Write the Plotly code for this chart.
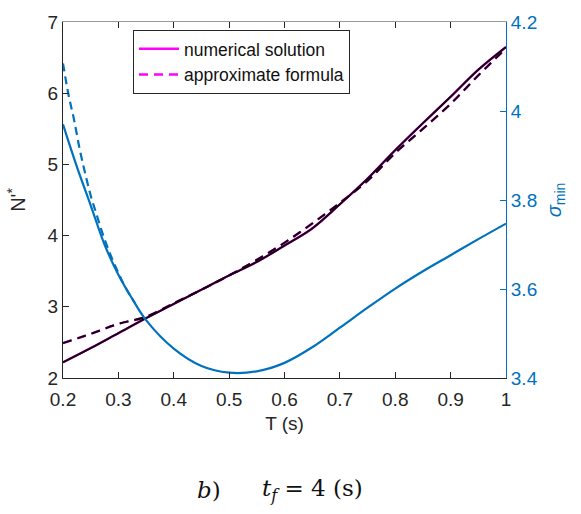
import plotly.graph_objects as go

# Period T (s) sample points
T_num = [0.2, 0.25, 0.3, 0.35, 0.4, 0.45, 0.5, 0.55, 0.6, 0.65, 0.7, 0.75, 0.8, 0.85, 0.9, 0.95, 1.0]
# N'* from the numerical solution
N_num = [2.22, 2.42, 2.63, 2.84, 3.04, 3.24, 3.44, 3.63, 3.86, 4.10, 4.44, 4.80, 5.20, 5.58, 5.95, 6.33, 6.65]
# N'* from the approximate formula
N_apx = [2.49, 2.62, 2.76, 2.86, 3.05, 3.24, 3.44, 3.66, 3.90, 4.17, 4.46, 4.77, 5.16, 5.50, 5.85, 6.25, 6.63]

# sigma_min, numerical solution
T_sig = [0.2, 0.225, 0.25, 0.275, 0.3, 0.325, 0.35, 0.4, 0.45, 0.5, 0.55, 0.6, 0.65, 0.7, 0.75, 0.8, 0.85, 0.9, 0.95, 1.0]
S_num = [3.970, 3.875, 3.788, 3.700, 3.632, 3.578, 3.530, 3.466, 3.427, 3.412, 3.415, 3.434, 3.469, 3.513, 3.558, 3.601, 3.640, 3.676, 3.712, 3.747]
# sigma_min, approximate formula (short-period branch)
T_sig_apx = [0.2, 0.21, 0.22, 0.23, 0.24, 0.25, 0.26, 0.27, 0.28, 0.29, 0.30, 0.31, 0.32, 0.33]
S_apx = [4.107, 4.036, 3.980, 3.915, 3.860, 3.810, 3.770, 3.730, 3.695, 3.664, 3.636, 3.610, 3.588, 3.568]

x_ticks = [0.2, 0.3, 0.4, 0.5, 0.6, 0.7, 0.8, 0.9, 1.0]
x_tick_text = ["0.2", "0.3", "0.4", "0.5", "0.6", "0.7", "0.8", "0.9", "1"]
yl_ticks = [2, 3, 4, 5, 6, 7]
yr_ticks = [3.4, 3.6, 3.8, 4.0, 4.2]
yr_tick_text = ["3.4", "3.6", "3.8", "4", "4.2"]

BLUE = "#0072BD"
MAGENTA = "#FF00FF"
DARK = "#12040f"
FONT = "Liberation Sans, Arial, sans-serif"
SERIF = "DejaVu Serif, Liberation Serif, serif"

fig = go.Figure()

# magenta under-strokes (legend entries)
fig.add_trace(go.Scatter(x=T_num, y=N_num, mode="lines", name="numerical solution",
                         line=dict(color=MAGENTA, width=2.3, shape="spline")))
fig.add_trace(go.Scatter(x=T_num, y=N_apx, mode="lines", name="approximate formula",
                         line=dict(color=MAGENTA, width=2.3, dash="9px,6px", shape="spline")))
# dark strokes on top
fig.add_trace(go.Scatter(x=T_num, y=N_num, mode="lines", showlegend=False, hoverinfo="skip",
                         line=dict(color=DARK, width=2, shape="spline")))
fig.add_trace(go.Scatter(x=T_num, y=N_apx, mode="lines", showlegend=False, hoverinfo="skip",
                         line=dict(color=DARK, width=2, dash="9px,6px", shape="spline")))

# sigma_min on the right axis
fig.add_trace(go.Scatter(x=T_sig, y=S_num, mode="lines", showlegend=False, yaxis="y2",
                         line=dict(color=BLUE, width=2.2, shape="spline")))
fig.add_trace(go.Scatter(x=T_sig_apx, y=S_apx, mode="lines", showlegend=False, yaxis="y2",
                         line=dict(color=BLUE, width=2.2, dash="8px,5px", shape="spline")))

# invisible trace carrying the top frame axis
fig.add_trace(go.Scatter(x=[0.2, 1.0], y=[2, 2], mode="lines", showlegend=False, hoverinfo="skip",
                         xaxis="x2", line=dict(color="rgba(0,0,0,0)")))

fig.update_layout(
    width=581, height=514,
    margin=dict(l=63, r=75, t=16, b=136),
    paper_bgcolor="white", plot_bgcolor="white",
    font=dict(family=FONT, size=19, color="#262626"),
    xaxis=dict(range=[0.2, 1.0], tickvals=x_ticks, ticktext=x_tick_text,
               ticks="inside", ticklen=6, tickcolor="#262626", showgrid=False, zeroline=False,
               showline=True, linecolor="#262626", linewidth=1, ticklabelstandoff=4,
               tickfont=dict(size=19),
               title=dict(text="T (s)", font=dict(size=19), standoff=7)),
    xaxis2=dict(range=[0.2, 1.0], overlaying="x", side="top", anchor="y", tickvals=x_ticks,
                showticklabels=False, ticks="inside", ticklen=6, tickcolor="#262626",
                showgrid=False, zeroline=False, showline=True, linecolor="#9a9a9a", linewidth=1),
    yaxis=dict(range=[2, 7], tickvals=yl_ticks, ticks="inside", ticklen=6, tickcolor="#262626",
               showgrid=False, zeroline=False, showline=True, linecolor="#262626", linewidth=1,
               tickfont=dict(size=19),
               title=dict(text="N'<sup>*</sup>", font=dict(size=20), standoff=16)),
    yaxis2=dict(range=[3.4, 4.2], tickvals=yr_ticks, ticktext=yr_tick_text, overlaying="y",
                side="right", anchor="x", ticks="inside", ticklen=6, tickcolor=BLUE,
                tickfont=dict(color=BLUE, size=19), showgrid=False, zeroline=False,
                showline=True, linecolor=BLUE, linewidth=1,
                title=dict(text="<i>σ</i><sub>min</sub>", font=dict(color=BLUE, size=20), standoff=10)),
    legend=dict(x=(133 - 63) / 443, y=(378 - 24) / 362, xanchor="left", yanchor="top",
                bgcolor="white", bordercolor="#262626", borderwidth=1,
                font=dict(size=17.5, color="#111111"), tracegroupgap=0, itemwidth=40),
    annotations=[
        dict(text="<i>b</i>)", xref="paper", yref="paper", x=(209 - 63) / 443, y=-(492 - 378) / 362,
             xanchor="center", yanchor="middle", showarrow=False,
             font=dict(family=SERIF, size=23, color="#111111")),
        dict(text="<i>t<sub>f</sub></i> = 4 (s)", xref="paper", yref="paper", x=(312 - 63) / 443,
             y=-(492 - 378) / 362, xanchor="center", yanchor="middle", showarrow=False,
             font=dict(family=SERIF, size=23, color="#111111")),
    ],
)

fig.write_html("out.html")
